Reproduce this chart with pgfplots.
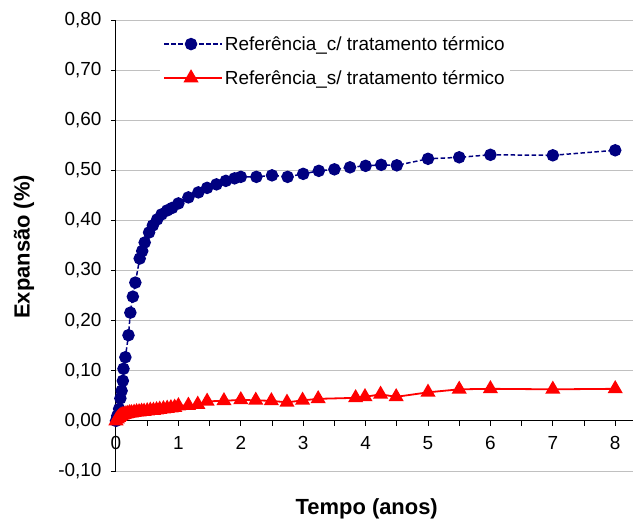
\documentclass[border=0pt]{standalone}
\usepackage{fontspec}
\setmainfont{Liberation Sans}
\usepackage{pgfplots}
\pgfplotsset{compat=1.18}
\definecolor{navyc}{HTML}{000080}
\definecolor{redc}{HTML}{FF0000}
\definecolor{gridc}{HTML}{C0C0C0}

\begin{document}
\begin{tikzpicture}
\begin{axis}[
  scale only axis,
  width=517bp, height=451bp,
  xmin=0, xmax=8.285,
  ymin=-0.1, ymax=0.8,
  axis x line*=middle, axis y line*=left,
  hide obscured x ticks=false, hide obscured y ticks=false,
  xtick={0,1,2,3,4,5,6,7,8},
  minor xtick={0.5,1.5,2.5,3.5,4.5,5.5,6.5,7.5},
  ytick={-0.1,0,0.1,0.2,0.3,0.4,0.5,0.6,0.7,0.8},
  tick align=outside,
  major tick length=5bp, minor tick length=5bp,
  tick style={black, line width=0.8bp},
  axis line style={black, line width=1bp},
  ymajorgrids,
  major grid style={gridc, line width=1bp},
  /pgf/number format/assume math mode=true,
  tick label style={font=\fontsize{19}{22}\selectfont},
  xticklabel style={yshift=-7bp},
  yticklabel style={xshift=-6bp, /pgf/number format/.cd, fixed, fixed zerofill, precision=2, use comma},
  xlabel={\textbf{Tempo (anos)}},
  ylabel={\textbf{Expansão (\%)}},
  label style={font=\fontsize{22}{26}\selectfont},
  x label style={at={(axis description cs:0.485,-0.084)}, anchor=center},
  y label style={at={(axis description cs:-0.178,0.497)}, anchor=center},
  legend style={at={(axis description cs:0.085,0.973)}, anchor=north west,
    draw=none, fill=white, font=\fontsize{19}{22}\selectfont, row sep=14.5bp},
  legend cell align=left,
  legend image code/.code={\draw[mark repeat=2,mark phase=2] plot coordinates {(0bp,0bp) (27bp,0bp) (54bp,0bp)};
    \path (0bp,0bp) -- (58bp,0bp);},
]
\coordinate (SW) at (rel axis cs:0,0);

\addplot[navyc, line width=1.5bp, dash pattern=on 4.5bp off 2.5bp,
  mark=*, mark size=5.5bp, mark options={solid, fill=navyc}] coordinates {
(0,0.000) (0.02,0.010) (0.05,0.024) (0.07,0.045) (0.09,0.060) (0.11,0.080)
(0.12,0.104) (0.15,0.127) (0.20,0.171) (0.23,0.216) (0.27,0.248) (0.31,0.276)
(0.38,0.324) (0.42,0.339) (0.46,0.356) (0.53,0.376) (0.59,0.390) (0.66,0.402)
(0.73,0.412) (0.82,0.420) (0.90,0.425) (1.00,0.434) (1.16,0.446) (1.32,0.456)
(1.46,0.465) (1.61,0.472) (1.76,0.479) (1.90,0.484) (2.00,0.487) (2.25,0.487)
(2.50,0.490) (2.75,0.487) (3.00,0.493) (3.25,0.499) (3.50,0.502) (3.75,0.506)
(4.00,0.509) (4.25,0.511) (4.50,0.510) (5.00,0.523) (5.50,0.526) (6.00,0.531)
(7.00,0.530) (8.00,0.540)
};
\addlegendentry{Referência\_c/ tratamento térmico}

\addplot[redc, line width=1.8bp,
  mark=triangle*, mark size=7bp, mark options={solid, fill=redc}] coordinates {
(0,0.000) (0.02,0.004) (0.04,0.007) (0.06,0.009) (0.08,0.011) (0.10,0.012)
(0.13,0.013) (0.16,0.014) (0.19,0.015) (0.22,0.016) (0.25,0.016) (0.29,0.017)
(0.33,0.018) (0.37,0.018) (0.41,0.019) (0.45,0.019) (0.50,0.020) (0.55,0.021)
(0.60,0.021) (0.65,0.022) (0.70,0.023) (0.76,0.024) (0.82,0.025) (0.88,0.026)
(0.94,0.027) (1.00,0.030) (1.16,0.031) (1.31,0.033) (1.46,0.039) (1.73,0.040)
(2.00,0.042) (2.24,0.041) (2.49,0.040) (2.74,0.037) (2.99,0.041) (3.24,0.044)
(3.84,0.046) (3.99,0.048) (4.24,0.053) (4.49,0.048) (5.00,0.057) (5.50,0.063)
(6.00,0.064) (7.00,0.063) (8.00,0.064)
};
\addlegendentry{Referência\_s/ tratamento térmico}
\end{axis}
\pgfresetboundingbox
\path[use as bounding box] ([shift={(-116bp,-52bp)}]SW) rectangle ++(633bp,523bp);
\end{tikzpicture}
\end{document}
